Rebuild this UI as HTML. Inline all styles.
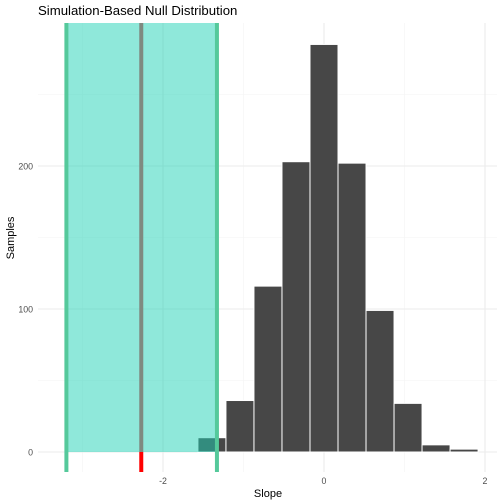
<!DOCTYPE html>
<html><head><meta charset="utf-8"><style>body{margin:0;background:#fff}svg{display:block;font-family:"Liberation Sans",sans-serif}</style></head>
<body>
<svg id="chart" width="504" height="504">
<text x="38" y="15" font-size="13.2" fill="#000">Simulation-Based Null Distribution</text>
<g id="grid"></g><g id="shade"></g><g id="bars"></g><g id="lines"></g><g id="axes"></g>
<text x="268" y="497" font-size="11" text-anchor="middle">Slope</text>
<text transform="translate(14,238) rotate(-90)" font-size="11" text-anchor="middle">Samples</text>
</svg>
<script>
const binCenters=[-1.392,-1.044,-0.696,-0.348,0,0.348,0.696,1.044,1.392,1.740];
const counts=[10,36,116,203,285,202,99,34,5,2];
const binWidth=0.348;
const shadeRange=[-3.2,-1.33];
const observed=-2.27;
const xTicks=[-2,0,2];
const yTicks=[0,100,200];
const yMinor=[50,150,250];
const xMinor=[-3,-1,1];
const X=v=>324+v*80.5, Y=v=>452-v*1.43;
const ns="http://www.w3.org/2000/svg";
function mk(p,t,a){const e=document.createElementNS(ns,t);for(const k in a)e.setAttribute(k,a[k]);document.getElementById(p).appendChild(e);return e;}
const pTop=23,pBot=472,pLeft=38,pRight=497;
yMinor.forEach(v=>{const e=mk('grid','line',{x1:pLeft,x2:pRight,y1:Y(v),y2:Y(v),stroke:'#f3f3f3','stroke-width':0.6});

});
xMinor.forEach(v=>{const e=mk('grid','line',{x1:X(v),x2:X(v),y1:pTop,y2:pBot,stroke:'#f3f3f3','stroke-width':0.6});

});
yTicks.forEach(v=>{const e=mk('grid','line',{x1:pLeft,x2:pRight,y1:Y(v),y2:Y(v),stroke:'#ebebeb','stroke-width':1.1});


const t=mk('axes','text',{x:33,y:Y(v)+3.5,'font-size':8.8,fill:'#4d4d4d','text-anchor':'end'});t.textContent=v;

});
xTicks.forEach(v=>{const e=mk('grid','line',{x1:X(v),x2:X(v),y1:pTop,y2:pBot,stroke:'#ebebeb','stroke-width':1.1});


const t=mk('axes','text',{x:X(v),y:484,'font-size':8.8,fill:'#4d4d4d','text-anchor':'middle'});t.textContent=v;

});
binCenters.forEach((c,i)=>{const b=mk('bars','rect',{x:X(c-binWidth/2),y:Y(counts[i]),width:binWidth*80.5,height:counts[i]*1.43,fill:'#474747',stroke:'#fff','stroke-width':1});

});
const s=mk('lines','rect',{x:X(shadeRange[0]),y:pTop,width:X(shadeRange[1])-X(shadeRange[0]),height:Y(0)-pTop,fill:'#1fd1b5','fill-opacity':0.5});


shadeRange.forEach(v=>{const l=mk('lines','line',{x1:X(v),x2:X(v),y1:pTop,y2:pBot,stroke:'#55c99b','stroke-width':4});

});
const g=mk('lines','line',{x1:X(observed),x2:X(observed),y1:pTop,y2:Y(0),stroke:'#7f8a80','stroke-width':4});


const r=mk('lines','line',{x1:X(observed),x2:X(observed),y1:Y(0),y2:pBot,stroke:'#f00','stroke-width':4});


</script>
</body></html>
